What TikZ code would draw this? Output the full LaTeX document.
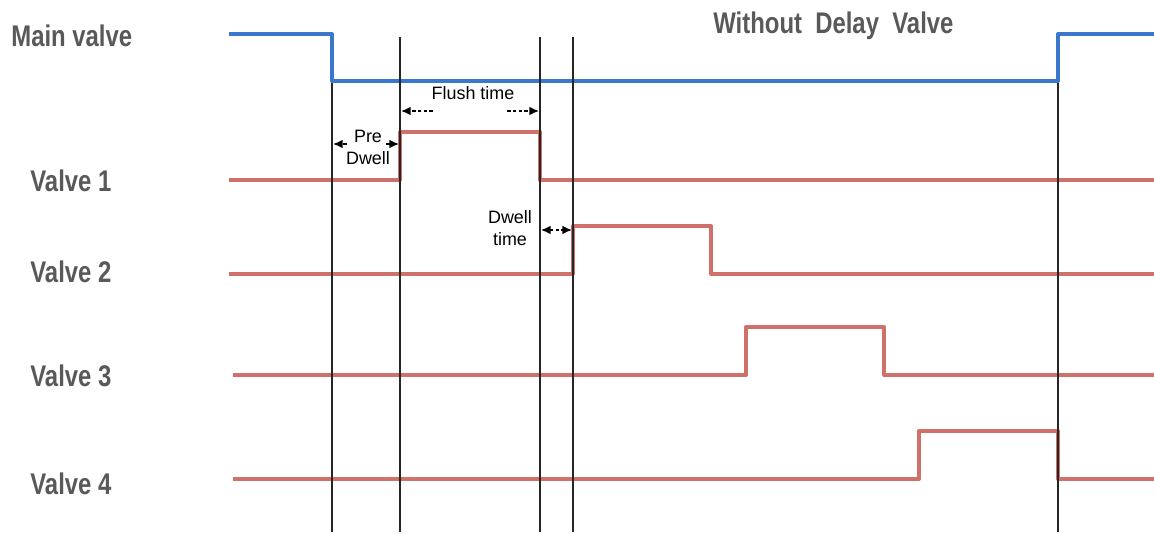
\documentclass[tikz,border=0pt]{standalone}
\usepackage{fontspec}
\setmainfont{Liberation Sans}
\newfontfamily\narrowbold[FakeStretch=0.8,BoldFont={Liberation Sans Bold}]{Liberation Sans}
\usetikzlibrary{arrows.meta}
\definecolor{mainblue}{RGB}{58,120,206}
\definecolor{valvered}{RGB}{208,112,107}
\definecolor{labelgray}{RGB}{89,89,89}

\begin{document}
\begin{tikzpicture}[x=0.02cm,y=-0.02cm,
  valvelabel/.style={anchor=base west,inner sep=0pt,text=labelgray,font=\narrowbold\bfseries\fontsize{17}{20}\selectfont},
  smalltext/.style={inner sep=0pt,align=center,font=\fontsize{10.2}{12.5}\selectfont},
  timing/.style={line width=0.9pt,dash pattern=on 2pt off 1.3pt,-{Latex[length=5.5pt,width=5pt]}}]
\useasboundingbox (0,0) rectangle (1154,534);
% signals
\draw[mainblue, line width=2.3pt, line join=round] (229,34) -- (332,34) -- (332,81) -- (1058,81) -- (1058,34) -- (1154,34);
\foreach \s/\a/\b/\y in {229/400/540/180, 229/573/711/274, 233/746/884/375, 233/919/1058/479} {
  \draw[valvered, line width=2.3pt, line join=round] (\s,\y) -- (\a,\y) -- (\a,\y-48) -- (\b,\y-48) -- (\b,\y) -- (1154,\y);
}
% time marks
\foreach \x/\y in {332/83,400/37,540/37,573/37,1058/83} {
  \draw[black!85, line width=0.6pt] (\x,\y) -- (\x,532);
}
% labels
\node[valvelabel] (mainlbl) at (11,47) {Main valve};
\node[valvelabel] (v1lbl) at (30,191) {Valve 1};
\node[valvelabel] (v2lbl) at (30,282) {Valve 2};
\node[valvelabel] (v3lbl) at (30,386) {Valve 3};
\node[valvelabel] (v4lbl) at (30,494) {Valve 4};
\node[valvelabel] (title) at (713,33) {Without\ \ Delay\ \ Valve};
% intervals
\node[smalltext] (flush) at (473,93) {Flush time};
\coordinate (fl1) at (433,111);
\coordinate (fl2) at (401,111);
\coordinate (fr1) at (507,111);
\coordinate (fr2) at (539,111);
\draw[timing] (fl1) -- (fl2);
\draw[timing] (fr1) -- (fr2);
\node[smalltext] (predwell) at (368,147) {Pre\\Dwell};
\coordinate (pl1) at (347,144);
\coordinate (pl2) at (333,144);
\coordinate (pr1) at (386,144);
\coordinate (pr2) at (399,144);
\draw[timing] (pl1) -- (pl2);
\draw[timing] (pr1) -- (pr2);
\node[smalltext] (dwell) at (510,228) {Dwell\\time};
\coordinate (dl) at (541,230);
\coordinate (dr) at (572,230);
\draw[timing,{Latex[length=5.5pt,width=5pt]}-{Latex[length=5.5pt,width=5pt]}] (dl) -- (dr);
\end{tikzpicture}
\end{document}
